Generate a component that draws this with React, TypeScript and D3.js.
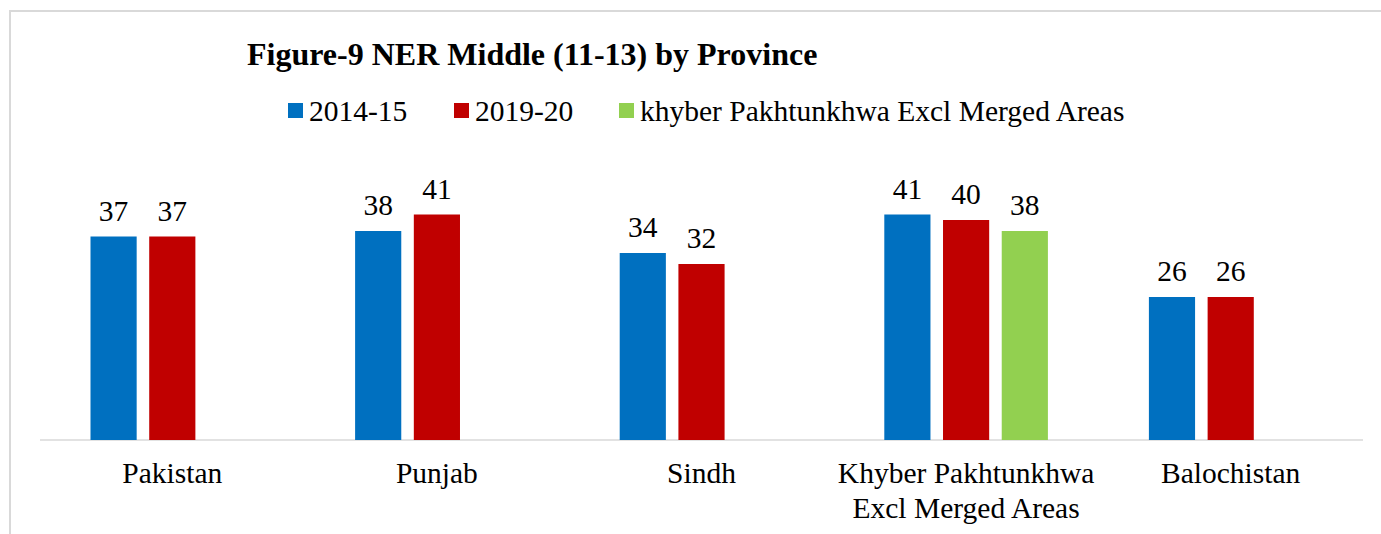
import React from "react";
import * as d3 from "d3";

const categories: string[][] = [
  ["Pakistan"],
  ["Punjab"],
  ["Sindh"],
  ["Khyber Pakhtunkhwa", "Excl Merged Areas"],
  ["Balochistan"],
];
const seriesNames = ["2014-15", "2019-20", "khyber Pakhtunkhwa Excl Merged Areas"];
const series2014: (number | null)[] = [37, 38, 34, 41, 26];
const series2019: (number | null)[] = [37, 41, 32, 40, 26];
const seriesKP: (number | null)[] = [null, null, null, 38, null];
const title = "Figure-9 NER Middle (11-13) by Province";

const colors = ["#0070C0", "#C00000", "#92D050"];
const W = 1381;
const H = 534;
const FONT = "'Liberation Serif', 'Times New Roman', serif";
const FS = 29.5;

export default function App() {
  const allSeries = [series2014, series2019, seriesKP];
  const catKeys = categories.map((c) => c.join(" "));
  const x0 = d3.scaleBand<string>().domain(catKeys).range([40, 1363]).paddingInner(0).paddingOuter(0);
  const bw = x0.bandwidth();
  const x1 = d3
    .scaleBand<string>()
    .domain(seriesNames)
    .range([50.5, bw - 50.5])
    .paddingInner(12.5 / 58.5)
    .paddingOuter(0);
  const y = d3.scaleLinear().domain([0, 50]).range([440, 165]);

  const legendX = [288, 454, 619];

  return (
    <svg
      width={W}
      height={H}
      style={{ position: "absolute", left: 0, top: 0, background: "#fff" }}
      fontFamily={FONT}
    >
      <rect x={0} y={0} width={W} height={H} fill="#fff" />
      <rect x={10} y={11} width={W + 50} height={H + 50} fill="none" stroke="#d9d9d9" strokeWidth={2} />
      <text x={247} y={65} fontSize={32} fontWeight="bold" fill="#000">
        {title}
      </text>
      {seriesNames.map((s, i) => (
        <g key={s}>
          <rect x={legendX[i]} y={103} width={15} height={15} fill={colors[i]} />
          <text x={legendX[i] + 21} y={121} fontSize={FS} fill="#000">
            {s}
          </text>
        </g>
      ))}
      <line x1={40} x2={1363} y1={440} y2={440} stroke="#d9d9d9" strokeWidth={1.5} />
      {catKeys.map((ck, ci) => (
        <g key={ck} transform={`translate(${x0(ck)},0)`}>
          {allSeries.map((ser, si) => {
            const v = ser[ci];
            if (v == null) return null;
            const bx = x1(seriesNames[si])!;
            return (
              <g key={si}>
                <rect x={bx} y={y(v)} width={x1.bandwidth()} height={y(0) - y(v)} fill={colors[si]} />
                <text
                  x={bx + x1.bandwidth() / 2}
                  y={y(v) - 16}
                  textAnchor="middle"
                  fontSize={FS}
                  fill="#000"
                >
                  {v}
                </text>
              </g>
            );
          })}
          {categories[ci].map((line, li) => (
            <text key={li} x={bw / 2} y={483 + li * 35} textAnchor="middle" fontSize={FS} fill="#000">
              {line}
            </text>
          ))}
        </g>
      ))}
    </svg>
  );
}
